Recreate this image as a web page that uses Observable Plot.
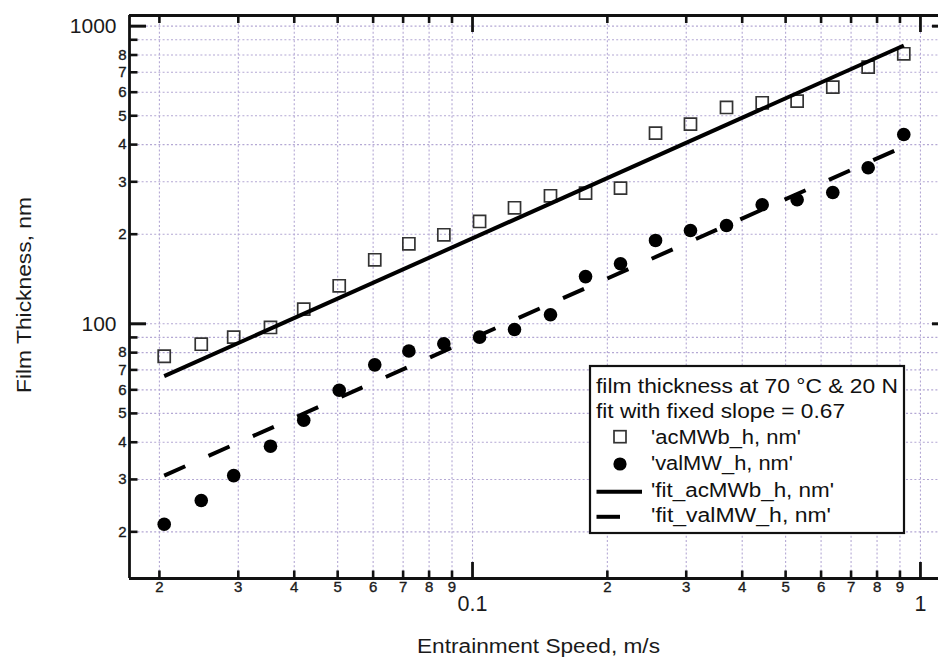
<!DOCTYPE html>
<html><head><meta charset="utf-8">
<script src="https://cdn.jsdelivr.net/npm/d3@7"></script>
<script src="https://cdn.jsdelivr.net/npm/@observablehq/plot@0.6"></script>
<style>
html,body{margin:0;padding:0;background:#fff;overflow:hidden}
svg{display:block;overflow:hidden}
</style>
</head><body><div id="chart"></div>
<script>
// ---- data ----
const speed  = [0.0205,0.0248,0.0293,0.0354,0.0420,0.0504,0.0605,0.0721,0.0863,0.1037,0.1241,0.1493,0.1788,0.2140,0.2562,0.3066,0.3690,0.4433,0.5305,0.6372,0.7643,0.9178];
const acMWb  = [77.8,85.4,90.2,97.2,112.0,134.2,164.1,185.7,199.1,220.7,245.4,269.2,274.7,285.5,437.0,468.5,533.2,552.9,559.8,623.7,728.3,807.7];
const valMW  = [21.2,25.5,30.9,38.8,47.4,59.8,72.8,81.0,85.7,90.2,95.7,107.2,144.1,159.1,190.6,205.8,213.9,251.1,261.0,276.2,334.3,432.5];
const fitSpeed  = [0.0205, 0.918];
const fitAcMWb  = [66.7, 861];
const fitValMW  = [30.9, 394];

const xMinorTicks  = [0.02,0.03,0.04,0.05,0.06,0.07,0.08,0.09,0.2,0.3,0.4,0.5,0.6,0.7,0.8,0.9];
const xMinorLabels = ["2","3","4","5","6","7","8","9","2","3","4","5","6","7","8","9"];
const xMajorTicks  = [0.1, 1];
const xMajorLabels = ["0.1","1"];
const yMinorTicks  = [20,30,40,50,60,70,80,90,200,300,400,500,600,700,800,900];
const yMinorLabelTicks = [20,30,40,50,60,70,80,200,300,400,500,600,700,800];
const yMinorLabels = ["2","3","4","5","6","7","8","2","3","4","5","6","7","8"];
const yMajorTicks  = [100, 1000];
const yMajorLabels = ["100","1000"];

const xTitle = "Entrainment Speed, m/s";
const yTitle = "Film Thickness, nm";
const legendLines = ["film thickness at 70 °C & 20 N", "fit with fixed slope = 0.67"];
const seriesNames = ["'acMWb_h, nm'", "'valMW_h, nm'", "'fit_acMWb_h, nm'", "'fit_valMW_h, nm'"];

// ---- derived tables ----
const acData  = speed.map((x,i)=>({x, y: acMWb[i]}));
const valData = speed.map((x,i)=>({x, y: valMW[i]}));
const fitAc   = fitSpeed.map((x,i)=>({x, y: fitAcMWb[i]}));
const fitVal  = fitSpeed.map((x,i)=>({x, y: fitValMW[i]}));
const xMinor  = xMinorTicks.map((v,i)=>({v, t: xMinorLabels[i]}));
const xMajor  = xMajorTicks.map((v,i)=>({v, t: xMajorLabels[i]}));
const yMinorL = yMinorLabelTicks.map((v,i)=>({v, t: yMinorLabels[i]}));
const yMajorL = yMajorTicks.map((v,i)=>({v, t: yMajorLabels[i]}));

const xDomain = [0.01715, 1.161];
const yDomain = [13.94, 1086];
const W = 938, H = 657, mT = 15, mB = 79, mL = 129, mR = -11;
const plotW = W - mL - mR, plotH = H - mT - mB;
const FONT = "'Liberation Sans', Arial, Helvetica, sans-serif";
const INK = "#111";
const GRID = {stroke: "#b4a8d4", strokeWidth: 1.1, strokeDasharray: "2,2.2"};

const chart = Plot.plot({
  width: W, height: H,
  marginTop: mT, marginBottom: mB, marginLeft: mL, marginRight: mR,
  x: {type: "log", domain: xDomain, axis: null},
  y: {type: "log", domain: yDomain, axis: null},
  style: {fontFamily: FONT, color: "#1a1a1a", background: "white", overflow: "hidden"},
  marks: [
    Plot.ruleX([...xMinorTicks, ...xMajorTicks], {x: d => d, ...GRID}),
    Plot.ruleY([...yMinorTicks, ...yMajorTicks], {y: d => d, ...GRID}),
    Plot.dot(acData, {x: "x", y: "y", symbol: "square", r: 6.8, stroke: "#333", strokeWidth: 1.7, fill: "none"}),
    Plot.line(fitAc, {x: "x", y: "y", stroke: "#000", strokeWidth: 4, strokeLinecap: "butt"}),
    Plot.line(fitVal, {x: "x", y: "y", stroke: "#000", strokeWidth: 4, strokeLinecap: "butt", strokeDasharray: "23,25.5"}),
    Plot.dot(valData, {x: "x", y: "y", r: 6.8, fill: "#000", stroke: "none"}),
    // frame: left, top, bottom (right edge lies beyond the picture)
    Plot.ruleX([xDomain[0]], {x: d => d, stroke: INK, strokeWidth: 2.8}),
    Plot.ruleY(yDomain, {y: d => d, stroke: INK, strokeWidth: 2.8}),
    // inward ticks: bottom / top
    Plot.tickX(xMinorTicks, {x: d => d, insetTop: plotH - 7.5, stroke: INK, strokeWidth: 2.6}),
    Plot.tickX(xMajorTicks, {x: d => d, insetTop: plotH - 16, stroke: INK, strokeWidth: 2.8}),
    Plot.tickX(xMinorTicks, {x: d => d, insetBottom: plotH - 8, stroke: INK, strokeWidth: 2.6}),
    Plot.tickX(xMajorTicks, {x: d => d, insetBottom: plotH - 17, stroke: INK, strokeWidth: 2.8}),
    // inward ticks: left / right
    Plot.tickY(yMinorTicks, {y: d => d, insetRight: plotW - 8.5, stroke: INK, strokeWidth: 2.6}),
    Plot.tickY(yMajorTicks, {y: d => d, insetRight: plotW - 17, stroke: INK, strokeWidth: 3}),
    Plot.tickY(yMinorTicks, {y: d => d, insetLeft: plotW - 8.5, stroke: INK, strokeWidth: 2.6}),
    Plot.tickY(yMajorTicks, {y: d => d, insetLeft: plotW - 17, stroke: INK, strokeWidth: 3}),
    // tick labels
    Plot.text(xMinor, {x: "v", text: "t", frameAnchor: "bottom", dy: 13.5, fontSize: 15, fill: "#1a1a1a", stroke: "#1a1a1a", strokeWidth: 0.35}),
    Plot.text(xMajor, {x: "v", text: "t", frameAnchor: "bottom", dy: 32, fontSize: 21.5, fill: "#1a1a1a"}),
    Plot.text(yMinorL, {y: "v", text: "t", frameAnchor: "left", textAnchor: "end", dx: -3, fontSize: 15, fill: "#1a1a1a", stroke: "#1a1a1a", strokeWidth: 0.35}),
    Plot.text(yMajorL, {y: "v", text: "t", frameAnchor: "left", textAnchor: "end", dx: -13, fontSize: 21, fill: "#1a1a1a"})
  ]
});
document.getElementById("chart").appendChild(chart);

// ---- axis titles and in-plot legend ----
const svg = d3.select(chart);
const g = svg.append("g").attr("font-family", FONT).attr("fill", "#1a1a1a");
g.append("text").text(xTitle)
  .attr("x", 538.5).attr("y", 653).attr("text-anchor", "middle")
  .attr("font-size", 20).attr("textLength", 243).attr("lengthAdjust", "spacingAndGlyphs");
g.append("text").text(yTitle)
  .attr("transform", "translate(31,295) rotate(-90)").attr("text-anchor", "middle")
  .attr("font-size", 20).attr("textLength", 196).attr("lengthAdjust", "spacingAndGlyphs");

const lg = svg.append("g").attr("font-family", FONT).attr("fill", "#111").attr("text-anchor", "start");
lg.append("rect").attr("x", 590).attr("y", 366).attr("width", 314).attr("height", 167)
  .attr("fill", "white").attr("stroke", INK).attr("stroke-width", 2.2);
const headPos = [{x: 596, y: 393.3, w: 302}, {x: 596, y: 418.3, w: 249}];
legendLines.forEach((t, i) => {
  lg.append("text").text(t).attr("x", headPos[i].x).attr("y", headPos[i].y).attr("text-anchor", "start")
    .attr("font-size", 20).attr("textLength", headPos[i].w).attr("lengthAdjust", "spacingAndGlyphs");
});
const itemPos = [{y: 443.8, w: 150}, {y: 470, w: 142}, {y: 496.6, w: 183}, {y: 521.8, w: 180}];
seriesNames.forEach((t, i) => {
  lg.append("text").text(t).attr("x", 651).attr("y", itemPos[i].y).attr("text-anchor", "start")
    .attr("font-size", 20).attr("textLength", itemPos[i].w).attr("lengthAdjust", "spacingAndGlyphs");
});
lg.append("rect").attr("x", 614).attr("y", 430.7).attr("width", 12).attr("height", 12)
  .attr("fill", "none").attr("stroke", "#333").attr("stroke-width", 1.7);
lg.append("circle").attr("cx", 620).attr("cy", 464).attr("r", 6.6).attr("fill", "#000");
lg.append("line").attr("x1", 596.5).attr("x2", 642).attr("y1", 491.7).attr("y2", 491.7)
  .attr("stroke", "#000").attr("stroke-width", 4);
lg.append("line").attr("x1", 596.5).attr("x2", 620).attr("y1", 516.8).attr("y2", 516.8)
  .attr("stroke", "#000").attr("stroke-width", 4);
</script>
</body></html>
